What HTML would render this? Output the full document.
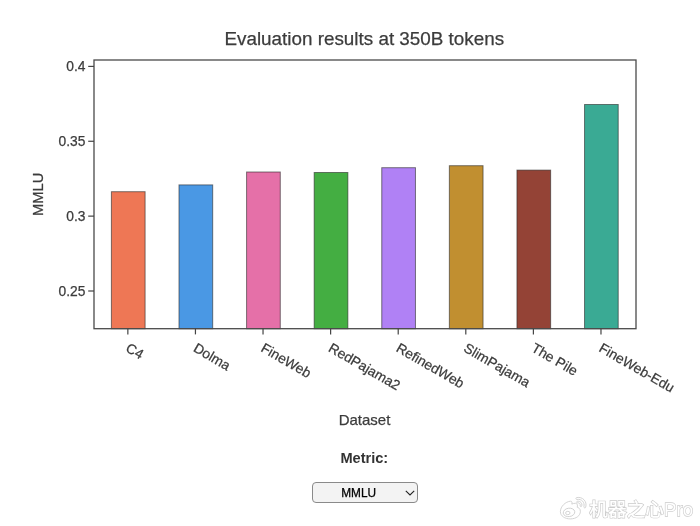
<!DOCTYPE html>
<html>
<head>
<meta charset="utf-8">
<title>Evaluation results at 350B tokens</title>
<style>
html,body{margin:0;padding:0;background:#fff;}
body{width:700px;height:526px;overflow:hidden;position:relative;font-family:"Liberation Sans","Noto Sans CJK SC",sans-serif;}
svg{position:absolute;left:0;top:0;display:block;}
svg text{font-family:"Liberation Sans","Noto Sans CJK SC",sans-serif;fill:#3c3c3c;stroke:#3c3c3c;stroke-width:0.25px;}
.metric{position:absolute;left:0;width:728.6px;top:448.7px;text-align:center;font-weight:bold;font-size:14.6px;color:#333;line-height:18px;}
.sel{position:absolute;left:312px;top:482px;width:106px;height:20.6px;box-sizing:border-box;border:1px solid #8a8a8a;border-radius:4px;background:#f3f3f3;font-size:11.85px;color:#000;line-height:18px;-webkit-text-stroke:0.25px #000;}
.sel span{position:absolute;left:28.2px;top:0.6px;}
.sel svg{left:92.2px;top:6.7px;}
.wm{position:absolute;left:589.3px;top:498px;font-size:18.7px;line-height:24px;font-weight:500;color:#fff;white-space:nowrap;-webkit-text-stroke:1.3px #cbcbcb;paint-order:stroke fill;}
.wmlogo{left:556px !important;top:492px !important;}
</style>
</head>
<body>
<svg width="700" height="526" viewBox="0 0 700 526">
  <rect x="0" y="0" width="700" height="526" fill="#fff"/>
  <g stroke="#2a2a2a" stroke-width="1" stroke-opacity="0.6">
    <rect x="111.40" y="191.7" width="33.7" height="137.0" fill="#ee7755"/>
    <rect x="178.99" y="184.9" width="33.7" height="143.8" fill="#4a98e4"/>
    <rect x="246.58" y="172.0" width="33.7" height="156.7" fill="#e570a8"/>
    <rect x="314.17" y="172.5" width="33.7" height="156.2" fill="#44ae42"/>
    <rect x="381.76" y="167.7" width="33.7" height="161.0" fill="#b081f5"/>
    <rect x="449.35" y="165.7" width="33.7" height="163.0" fill="#c18f30"/>
    <rect x="516.94" y="170.1" width="33.7" height="158.6" fill="#944336"/>
    <rect x="584.53" y="104.5" width="33.7" height="224.2" fill="#3aaa94"/>
  </g>
  <rect x="94" y="60" width="542" height="268.7" fill="none" stroke="#4a4a4a" stroke-width="1.3"/>
  <g stroke="#444" stroke-width="1.2">
    <line x1="88.2" x2="94" y1="66.4" y2="66.4"/>
    <line x1="88.2" x2="94" y1="141.27" y2="141.27"/>
    <line x1="88.2" x2="94" y1="216.13" y2="216.13"/>
    <line x1="88.2" x2="94" y1="291.0" y2="291.0"/>
  </g>
  <g font-size="13.8" text-anchor="end">
    <text x="85.4" y="71.30">0.4</text>
    <text x="85.4" y="146.17">0.35</text>
    <text x="85.4" y="221.03">0.3</text>
    <text x="85.4" y="295.90">0.25</text>
  </g>
  <g stroke="#444" stroke-width="1.2">
    <line x1="127.85" x2="127.85" y1="328.7" y2="334.4"/>
    <line x1="195.44" x2="195.44" y1="328.7" y2="334.4"/>
    <line x1="263.03" x2="263.03" y1="328.7" y2="334.4"/>
    <line x1="330.62" x2="330.62" y1="328.7" y2="334.4"/>
    <line x1="398.21" x2="398.21" y1="328.7" y2="334.4"/>
    <line x1="465.80" x2="465.80" y1="328.7" y2="334.4"/>
    <line x1="533.39" x2="533.39" y1="328.7" y2="334.4"/>
    <line x1="600.98" x2="600.98" y1="328.7" y2="334.4"/>
  </g>
  <g font-size="13.8">
    <text transform="translate(124.85,350.8) rotate(30)">C4</text>
    <text transform="translate(192.44,350.8) rotate(30)">Dolma</text>
    <text transform="translate(260.03,350.8) rotate(30)">FineWeb</text>
    <text transform="translate(327.62,350.8) rotate(30)">RedPajama2</text>
    <text transform="translate(395.21,350.8) rotate(30)">RefinedWeb</text>
    <text transform="translate(462.80,350.8) rotate(30)">SlimPajama</text>
    <text transform="translate(530.39,350.8) rotate(30)">The Pile</text>
    <text transform="translate(597.98,350.8) rotate(30)">FineWeb-Edu</text>
  </g>
  <text x="364.3" y="44.75" font-size="18.85" text-anchor="middle">Evaluation results at 350B tokens</text>
  <text x="364.5" y="425.0" font-size="15" text-anchor="middle">Dataset</text>
  <text transform="translate(43.2,194.3) rotate(-90)" font-size="14.7" text-anchor="middle">MMLU</text>
</svg>
<div class="metric">Metric:</div>
<div class="sel"><span>MMLU</span><svg width="11" height="7" viewBox="0 0 11 7"><path d="M0.8 0.8 L5 5 L9.2 0.8" fill="none" stroke="#222" stroke-width="1.1"/></svg></div>
<svg class="wmlogo" width="34" height="30" viewBox="556 492 34 30">
  <g fill="#fff" stroke="#cfcfcf" stroke-width="0.9">
    <path d="M570.5 501.2 C565.5 501.6 560.4 506.5 560.4 511.6 C560.4 516.2 565 518.9 570.3 518.9 C576.3 518.9 580.4 515.6 580.4 511.3 C580.4 508.6 578.4 507.6 577.2 507.2 C577.8 505.6 577.6 503.6 575.6 503.3 C574.4 503.1 572.9 503.6 571.8 504.1 C572.4 502.6 572 501.1 570.5 501.2 Z"/>
    <ellipse cx="569" cy="512.4" rx="5.8" ry="4.2" transform="rotate(-8 569 512.4)"/>
    <ellipse cx="567.8" cy="513" rx="2.2" ry="1.7"/>
    <path d="M576.6 497.6 C582.6 496.4 587.4 501.4 585.7 507.2 C585.3 508.4 583.6 507.9 583.9 506.7 C585 502.4 581.6 498.6 577.1 499.5 C575.9 499.7 575.4 497.9 576.6 497.6 Z"/>
    <path d="M577.2 501.3 C580.3 500.7 582.6 503.3 581.7 506.1 C581.4 507.1 580 506.7 580.2 505.7 C580.6 504 579.3 502.5 577.6 502.9 C576.6 503.1 576.2 501.6 577.2 501.3 Z"/>
  </g>
</svg>
<div class="wm">机器之心Pro</div>
</body>
</html>
